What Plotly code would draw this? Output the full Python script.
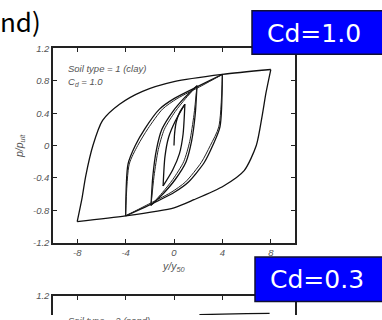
import plotly.graph_objects as go

# ---- data (y/y50, p/pult) ----
# Soil type 1 (clay), Cd = 1.0 : hysteresis branches
virgin_x = [0.0, 0.05, 0.2, 0.5, 0.9]
virgin_y = [0.0, 0.15, 0.30, 0.42, 0.51]

amp1_unload_x = [0.9, 0.75, 0.45, -0.1, -0.9]
amp1_unload_y = [0.51, 0.14, -0.10, -0.30, -0.50]
amp1_reload_x = [-0.9, -0.75, -0.45, 0.1, 0.9]
amp1_reload_y = [-0.50, -0.14, 0.10, 0.30, 0.51]

amp2_unload_x = [1.9, 1.75, 1.45, 1.0, 0.1, -0.8, -1.9]
amp2_unload_y = [0.74, 0.38, 0.05, -0.20, -0.42, -0.58, -0.74]
amp2_reload_x = [-1.9, -1.75, -1.45, -1.0, -0.1, 0.8, 1.9]
amp2_reload_y = [-0.74, -0.38, -0.05, 0.20, 0.42, 0.58, 0.74]
# second cycle at the same amplitude (slightly softer)
amp2b_unload_x = [1.9, 1.65, 1.3, 0.8, -0.1, -0.95, -1.9]
amp2b_unload_y = [0.74, 0.38, 0.05, -0.20, -0.42, -0.58, -0.74]
amp2b_reload_x = [-1.9, -1.65, -1.3, -0.8, 0.1, 0.95, 1.9]
amp2b_reload_y = [-0.74, -0.38, -0.05, 0.20, 0.42, 0.58, 0.74]

amp4_unload_x = [4.0, 3.8, 3.2, 2.5, 1.2, 0.0, -2.1, -4.0]
amp4_unload_y = [0.88, 0.23, 0.0, -0.21, -0.45, -0.58, -0.74, -0.87]
amp4_reload_x = [-4.0, -3.8, -3.2, -2.4, -1.2, 0.0, 2.1, 4.0]
amp4_reload_y = [-0.87, -0.23, 0.0, 0.21, 0.45, 0.58, 0.74, 0.88]
amp4b_unload_x = [4.0, 3.7, 3.0, 2.25, 0.95, -0.25, -2.3, -4.0]
amp4b_unload_y = [0.88, 0.23, 0.0, -0.21, -0.45, -0.58, -0.74, -0.87]
amp4b_reload_x = [-4.0, -3.7, -3.0, -2.15, -0.95, 0.25, 2.3, 4.0]
amp4b_reload_y = [-0.87, -0.23, 0.0, 0.21, 0.45, 0.58, 0.74, 0.88]

amp8_unload_x = [8.0, 7.6, 7.3, 6.8, 5.8, 4.1, 1.65, 0.0, -4.0, -8.0]
amp8_unload_y = [0.94, 0.65, 0.38, 0.0, -0.31, -0.50, -0.67, -0.77, -0.87, -0.94]
amp8_reload_x = [-8.0, -7.6, -7.3, -6.7, -5.9, -4.5, -2.6, 0.0, 4.0, 8.0]
amp8_reload_y = [-0.94, -0.65, -0.38, 0.0, 0.31, 0.51, 0.67, 0.79, 0.88, 0.94]

# Soil type 2 (sand), Cd = 0.3 : only the top of the lower chart is visible
sand_top_x = [2.1, 4.0, 6.0, 7.9]
sand_top_y = [0.972, 0.978, 0.983, 0.988]

x_ticks = [-8, -4, 0, 4, 8]
y_ticks = [-1.2, -0.8, -0.4, 0, 0.4, 0.8, 1.2]
y_tick_text = ["-1.2", "-0.8", "-0.4", "0", "0.4", "0.8", "1.2"]

# ---- figure ----
fig = go.Figure()
line = dict(color="#111111", width=1.3, shape="spline", smoothing=0.7)
line_b = dict(color="#222222", width=1.0, shape="spline", smoothing=0.7)

clay_branches = [
    (virgin_x, virgin_y, line),
    (amp1_unload_x, amp1_unload_y, line), (amp1_reload_x, amp1_reload_y, line),
    (amp2_unload_x, amp2_unload_y, line), (amp2_reload_x, amp2_reload_y, line),
    (amp2b_unload_x, amp2b_unload_y, line_b), (amp2b_reload_x, amp2b_reload_y, line_b),
    (amp4_unload_x, amp4_unload_y, line), (amp4_reload_x, amp4_reload_y, line),
    (amp4b_unload_x, amp4b_unload_y, line_b), (amp4b_reload_x, amp4b_reload_y, line_b),
    (amp8_unload_x, amp8_unload_y, line), (amp8_reload_x, amp8_reload_y, line),
]
for bx, by, ln in clay_branches:
    fig.add_trace(go.Scatter(x=bx, y=by, mode="lines", line=ln,
                             showlegend=False, hoverinfo="skip",
                             xaxis="x", yaxis="y"))

fig.add_trace(go.Scatter(x=sand_top_x, y=sand_top_y, mode="lines", line=line,
                         showlegend=False, hoverinfo="skip",
                         xaxis="x2", yaxis="y2"))

tickfont = dict(family="Liberation Sans, Arial, sans-serif", size=9.5,
                color="#555555", style="italic")
axline = dict(showline=True, linecolor="#222222", linewidth=1.5,
              ticks="inside", ticklen=4, tickwidth=1.3, tickcolor="#222222",
              showgrid=False, zeroline=False, tickfont=tickfont)

H = 320.0
def py(p):
    return (H - p) / H

fig.update_layout(
    width=382, height=320,
    margin=dict(l=53, r=87, t=0, b=0),
    paper_bgcolor="white", plot_bgcolor="white",
    xaxis=dict(domain=[0, 1], range=[-10, 10], anchor="y",
               tickvals=x_ticks, ticktext=[str(v) for v in x_ticks],
               mirror="ticks", **axline),
    yaxis=dict(domain=[py(245), py(44)], range=[-1.2, 1.2], anchor="x",
               tickvals=y_ticks, ticktext=y_tick_text,
               mirror="ticks", **axline),
    xaxis2=dict(domain=[0, 1], range=[-10, 10], anchor="y2", side="top",
                tickvals=x_ticks, showticklabels=False, **axline),
    yaxis2=dict(domain=[0, py(300.5)], range=[1.2 - 19.5 / 83.75, 1.2],
                anchor="x2", tickvals=[1.2], ticktext=["1.2"],
                mirror=True, **axline),
)

def px_x(p):
    return (p - 53) / 242.0

label_font = dict(family="Liberation Sans, Arial, sans-serif", size=9.5,
                  color="#555555", style="italic")
ann = []
ann.append(dict(text="Soil type = 1 (clay)", x=px_x(66), y=py(57),
                xanchor="left", yanchor="top", font=label_font))
ann.append(dict(text="C<sub>d</sub> = 1.0", x=px_x(66), y=py(70),
                xanchor="left", yanchor="top", font=label_font))
ann.append(dict(text="y/y<sub>50</sub>", x=px_x(174), y=py(270),
                xanchor="center", yanchor="middle",
                font=dict(label_font, size=10.5)))
ann.append(dict(text="p/p<sub>ult</sub>", x=px_x(20), y=py(145),
                xanchor="center", yanchor="middle", textangle=-90,
                font=dict(label_font, size=10.5)))
ann.append(dict(text="Soil type = 2 (sand)", x=px_x(66), y=py(318),
                xanchor="left", yanchor="top", font=label_font))
ann.append(dict(text="nd)", x=px_x(-2), y=py(-6),
                xanchor="left", yanchor="top",
                font=dict(family="Noto Sans CJK KR, Noto Sans, sans-serif",
                          size=26, color="black")))
box_font = dict(family="DejaVu Sans, sans-serif", size=25, color="white")
ann.append(dict(text="Cd=1.0", x=px_x(314), y=py(28), xanchor="center",
                yanchor="middle", font=box_font))
ann.append(dict(text="Cd=0.3", x=px_x(317), y=py(283), xanchor="center",
                yanchor="middle", font=box_font))
for a in ann:
    a.update(xref="paper", yref="paper", showarrow=False)
fig.update_layout(annotations=ann)

shapes = [
    dict(type="rect", xref="paper", yref="paper",
         x0=px_x(252), x1=px_x(383), y0=py(50), y1=py(5)),
    dict(type="rect", xref="paper", yref="paper",
         x0=px_x(255), x1=px_x(383), y0=py(306), y1=py(260)),
]
for s in shapes:
    s.update(fillcolor="#0000FF", line=dict(color="#111133", width=1.5),
             layer="above")
fig.update_layout(shapes=shapes)

fig.write_html(
    "out.html",
    config={"displayModeBar": False},
    post_script="document.body.style.margin='0px';"
                "document.body.style.overflow='hidden';",
)
